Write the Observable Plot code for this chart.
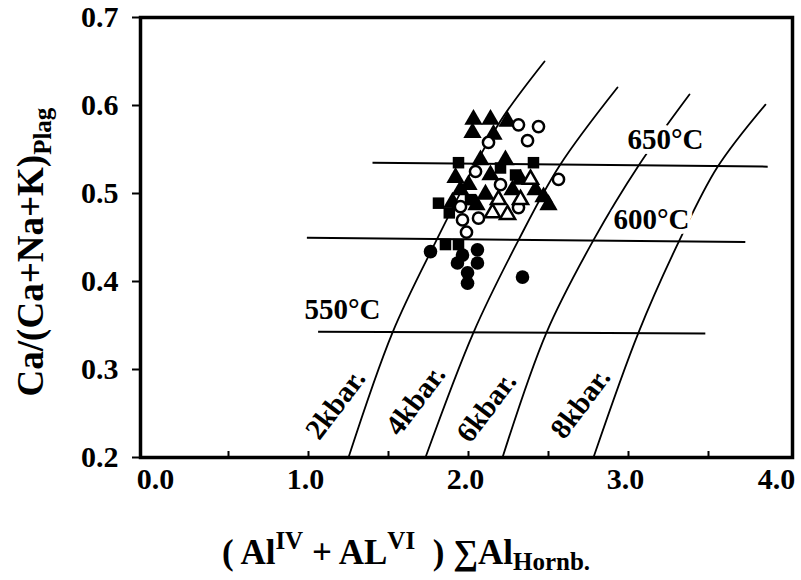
<!DOCTYPE html>
<html><head><meta charset="utf-8">
<script src="https://cdn.jsdelivr.net/npm/d3@7"></script>
<script src="https://cdn.jsdelivr.net/npm/@observablehq/plot@0.6"></script>
<style>
body{margin:0;background:#fff;}
#chart svg{display:block;}
</style></head><body><div id="chart"></div>
<script>
const FONT = '"Liberation Serif","Times New Roman",serif';

// ---- axis ticks ----
const xFirstTick = [0];
const xMidTicks = [1, 2, 3];
const xLastTick = [4];
const xMinorTicks = [0.5, 1, 1.5, 2, 2.5, 3, 3.5];
const yTicks = [0.2, 0.3, 0.4, 0.5, 0.6, 0.7];

// ---- isobars (kbar) : curves ----
const isobarNames = ["2kbar.", "4kbar.", "6kbar.", "8kbar."];
const iso2x = [1.25, 1.525, 1.80, 2.04, 2.22, 2.475];
const iso2y = [0.20, 0.342, 0.447, 0.532, 0.588, 0.650];
const iso4x = [1.731, 2.031, 2.3125, 2.569, 2.931];
const iso4y = [0.20, 0.342, 0.447, 0.5316, 0.6205];
const iso6x = [2.2125, 2.4875, 2.781, 3.0625, 3.381];
const iso6y = [0.20, 0.342, 0.447, 0.5316, 0.6125];
const iso8x = [2.781, 3.0625, 3.319, 3.556, 3.856];
const iso8y = [0.20, 0.342, 0.447, 0.530, 0.601];
const isobarLabelX = [1.169, 1.669, 2.1125, 2.70];
const isobarLabelY = [0.2604, 0.265, 0.257, 0.2615];

// ---- isotherms (°C) : straight lines ----
const isothermNames = ["550°C", "600°C", "650°C"];
const isoTx1 = [1.06, 0.99, 1.40];
const isoTx2 = [3.48, 3.73, 3.87];
const isoTy1 = [0.343, 0.4496, 0.535];
const isoTy2 = [0.341, 0.445, 0.5305];
const isothermLabelX = [1.2125, 3.144, 3.231];
const isothermLabelY = [0.3675, 0.470, 0.5613];

// ---- samples ----
const filledTriX = [2.031, 2.1375, 2.244, 2.025, 2.156, 2.231, 2.075, 1.919, 2.0, 2.1375, 2.325, 1.95, 2.106, 2.275, 2.469, 2.5, 2.419, 1.90, 2.05];
const filledTriY = [0.584, 0.584, 0.582, 0.569, 0.567, 0.538, 0.538, 0.518, 0.510, 0.521, 0.516, 0.504, 0.499, 0.504, 0.496, 0.487, 0.504, 0.490, 0.487];
const squareX = [1.9375, 2.406, 1.8125, 2.2, 1.856, 1.9375, 2.0125, 2.294, 1.88];
const squareY = [0.535, 0.535, 0.489, 0.529, 0.442, 0.442, 0.493, 0.521, 0.478];
const openCircX = [2.3125, 2.369, 2.4375, 2.125, 2.5625, 2.3125, 1.95, 1.9625, 2.0625, 1.9875, 2.2, 2.044];
const openCircY = [0.578, 0.560, 0.576, 0.558, 0.516, 0.484, 0.485, 0.470, 0.472, 0.456, 0.510, 0.525];
const openTriX = [2.1875, 2.15, 2.244, 2.3875, 2.325];
const openTriY = [0.493, 0.478, 0.476, 0.516, 0.493];
const filledCircX = [1.7625, 2.056, 1.931, 2.056, 1.994, 1.994, 2.3375, 1.9625];
const filledCircY = [0.434, 0.436, 0.421, 0.421, 0.410, 0.398, 0.405, 0.430];

// ---- build tables ----
const isoXs = [iso2x, iso4x, iso6x, iso8x];
const isoYs = [iso2y, iso4y, iso6y, iso8y];
const isobarRows = isobarNames.flatMap((n, i) => isoXs[i].map((x, j) => ({name: n, x, y: isoYs[i][j]})));
const isobarLabels = isobarNames.map((n, i) => ({name: n, x: isobarLabelX[i], y: isobarLabelY[i]}));
const isothermRows = isothermNames.map((n, i) => ({name: n, x1: isoTx1[i], x2: isoTx2[i], y1: isoTy1[i], y2: isoTy2[i]}));
const isothermLabels = isothermNames.map((n, i) => ({name: n, x: isothermLabelX[i], y: isothermLabelY[i]}));
const pts = (xs, ys) => xs.map((x, i) => ({x, y: ys[i]}));
const fmt = d3.format(".1f");

const plot = Plot.plot({
  width: 801,
  height: 580,
  marginLeft: 140,
  marginRight: 9,
  marginTop: 17,
  marginBottom: 123,
  style: {fontFamily: FONT, fontWeight: "bold", fontSize: "30px", background: "white", color: "black"},
  x: {domain: [-0.05, 4.025]},
  y: {domain: [0.2, 0.7]},
  marks: [
    Plot.line(isobarRows, {x: "x", y: "y", z: "name", curve: "catmull-rom", stroke: "black", strokeWidth: 1.8}),
    Plot.link(isothermRows, {x1: "x1", y1: "y1", x2: "x2", y2: "y2", stroke: "black", strokeWidth: 2}),
    Plot.text(isothermLabels, {x: "x", y: "y", text: "name", fontSize: 29, fontWeight: "bold", fontFamily: FONT, fill: "black", stroke: "white", strokeWidth: 10, paintOrder: "stroke"}),
    Plot.text(isobarLabels, {x: "x", y: "y", text: "name", rotate: -53, fontSize: 29, fontWeight: "bold", fontFamily: FONT, fill: "black"}),
    Plot.dot(pts(filledCircX, filledCircY), {x: "x", y: "y", r: 6.8, fill: "black"}),
    Plot.dot(pts(squareX, squareY), {x: "x", y: "y", r: 6.5, symbol: "square", fill: "black"}),
    Plot.dot(pts(filledTriX, filledTriY), {x: "x", y: "y", r: 6.8, symbol: "triangle", fill: "black"}),
    Plot.dot(pts(openCircX, openCircY), {x: "x", y: "y", r: 5.6, fill: "white", stroke: "black", strokeWidth: 2.5}),
    Plot.dot(pts(openTriX, openTriY), {x: "x", y: "y", r: 5.6, symbol: "triangle", fill: "white", stroke: "black", strokeWidth: 2.5}),
    Plot.axisY({ticks: yTicks, tickSize: 8, tickPadding: 14, strokeWidth: 2, tickFormat: fmt, label: null}),
    Plot.axisX({ticks: xMinorTicks, tickSize: -6, strokeWidth: 2, tickFormat: () => "", label: null}),
    Plot.axisX({ticks: xFirstTick, tickSize: 0, tickPadding: 10, dx: 7, tickFormat: fmt, label: null}),
    Plot.axisX({ticks: xMidTicks, tickSize: 0, tickPadding: 10, dx: -3, tickFormat: fmt, label: null}),
    Plot.axisX({ticks: xLastTick, tickSize: 0, tickPadding: 10, dx: -12, tickFormat: fmt, label: null}),
    Plot.frame({stroke: "black", strokeWidth: 3.5})
  ]
});

const svg = d3.select(plot);
// y-axis title
const yl = svg.append("text")
  .attr("transform", "translate(43,252) rotate(-90)")
  .attr("text-anchor", "middle")
  .attr("font-family", FONT).attr("font-weight", "bold").attr("font-size", 37).attr("fill", "black");
yl.append("tspan").text("Ca/(Ca+Na+K)");
yl.append("tspan").attr("font-size", 25).attr("dy", 8).text("Plag");

// x-axis title
const xl = svg.append("text")
  .attr("x", 406).attr("y", 564)
  .attr("text-anchor", "middle")
  .attr("font-family", FONT).attr("font-weight", "bold").attr("font-size", 35).attr("fill", "black");
xl.append("tspan").text("( Al");
xl.append("tspan").attr("font-size", 25).attr("dy", -15).text("IV");
xl.append("tspan").attr("dy", 15).text(" + AL");
xl.append("tspan").attr("font-size", 25).attr("dy", -15).text("VI");
xl.append("tspan").attr("dy", 15).text("\u00A0\u00A0) \u2211Al");
xl.append("tspan").attr("font-size", 25).attr("dy", 6).text("Hornb.");

document.getElementById("chart").appendChild(plot);
</script>
</body></html>
